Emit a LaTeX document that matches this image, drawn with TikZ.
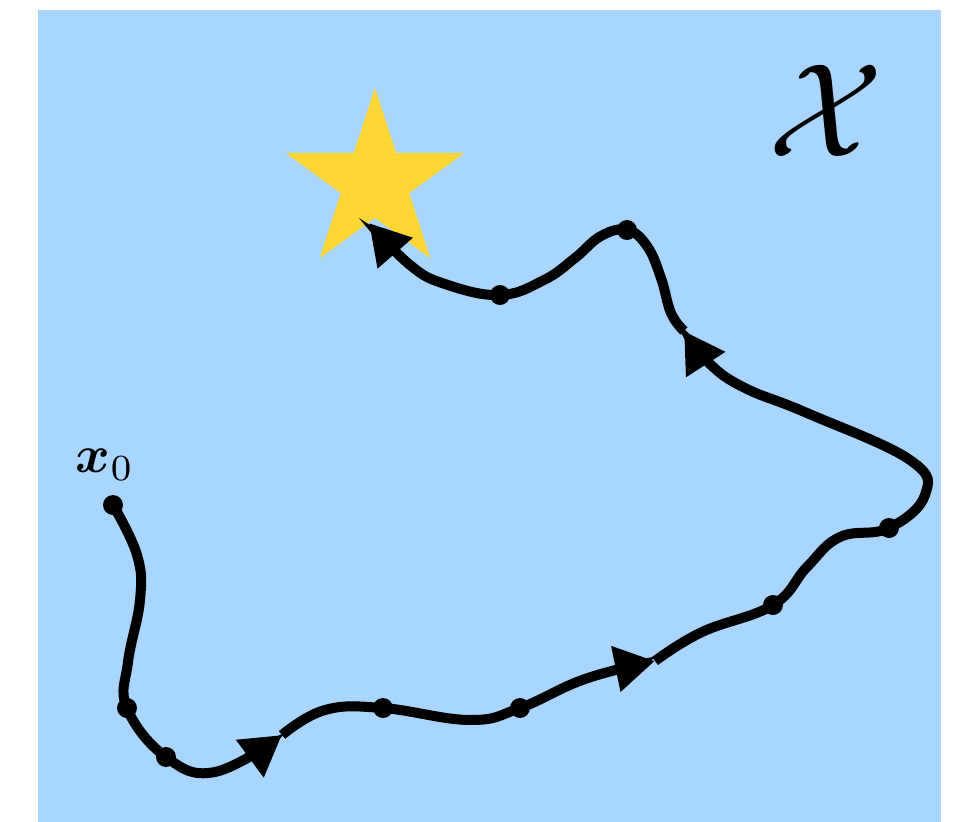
\documentclass[tikz,border=0pt]{standalone}
\usepackage{amsmath, amssymb}
\usepackage{xcolor}
\usepackage{tikz}
\usetikzlibrary{arrows.meta, shapes.geometric}

\definecolor{spaceblue}{RGB}{168,214,255}
\definecolor{goalyellow}{RGB}{255,214,51}

\begin{document}
\begin{tikzpicture}[x=0.02cm, y=-0.02cm,
        traj/.style={line width=0.2cm, -{Triangle[length=0.8cm, width=0.88cm]}},
        stopdot/.style={fill=black}]
    % canvas
    \useasboundingbox (0,0) rectangle (958,822);
    \fill[spaceblue] (38,10) rectangle (941,822);

    % goal
    \node (goal) [star, star points=5, star point ratio=2.618, minimum size=3.76cm, inner sep=0pt, fill=goalyellow] at (375,182) {};

    % points along the trajectory
    \coordinate (x0) at (113,505);
    \coordinate (p1) at (127,708);
    \coordinate (p2) at (166,757);
    \coordinate (t1) at (282,735);
    \coordinate (p3) at (383,708);
    \coordinate (p4) at (520,708);
    \coordinate (t2) at (655,661);
    \coordinate (p5) at (773,605);
    \coordinate (p6) at (889,528);
    \coordinate (t3) at (684,331);
    \coordinate (p7) at (627,230);
    \coordinate (p8) at (500,295);
    \coordinate (t4) at (369,223);

    % trajectory
    \draw[traj] plot[smooth, tension=0.7] coordinates {(x0) (137,555) (140,600) (128,662) (p1) (p2) (215,772) (t1)};
    \draw[traj] plot[smooth, tension=0.7] coordinates {(t1) (325,710) (p3) (470,720) (p4) (585,679) (t2)};
    \draw[traj] plot[smooth, tension=0.7] coordinates {(t2) (702,632) (p5) (807,567) (840,537) (p6) (925,495) (910,460) (807,413) (745,388) (710,364) (t3)};
    \draw[traj] plot[smooth, tension=0.7] coordinates {(t3) (671,313) (661,278) (647,246) (p7) (601,236) (575,258) (544,280) (p8) (445,284) (410,265) (t4)};

    \foreach \p in {x0,p1,p2,p3,p4,p5,p6,p7,p8}
        \fill[stopdot] (\p) circle (0.2cm);

    % labels
    \node (start) [scale=3, transform shape] at (105,465) {$\boldsymbol{x}_0$};
    \node (space) [scale=7.6, transform shape] at (826,111) {$\mathcal{X}$};
\end{tikzpicture}
\end{document}
